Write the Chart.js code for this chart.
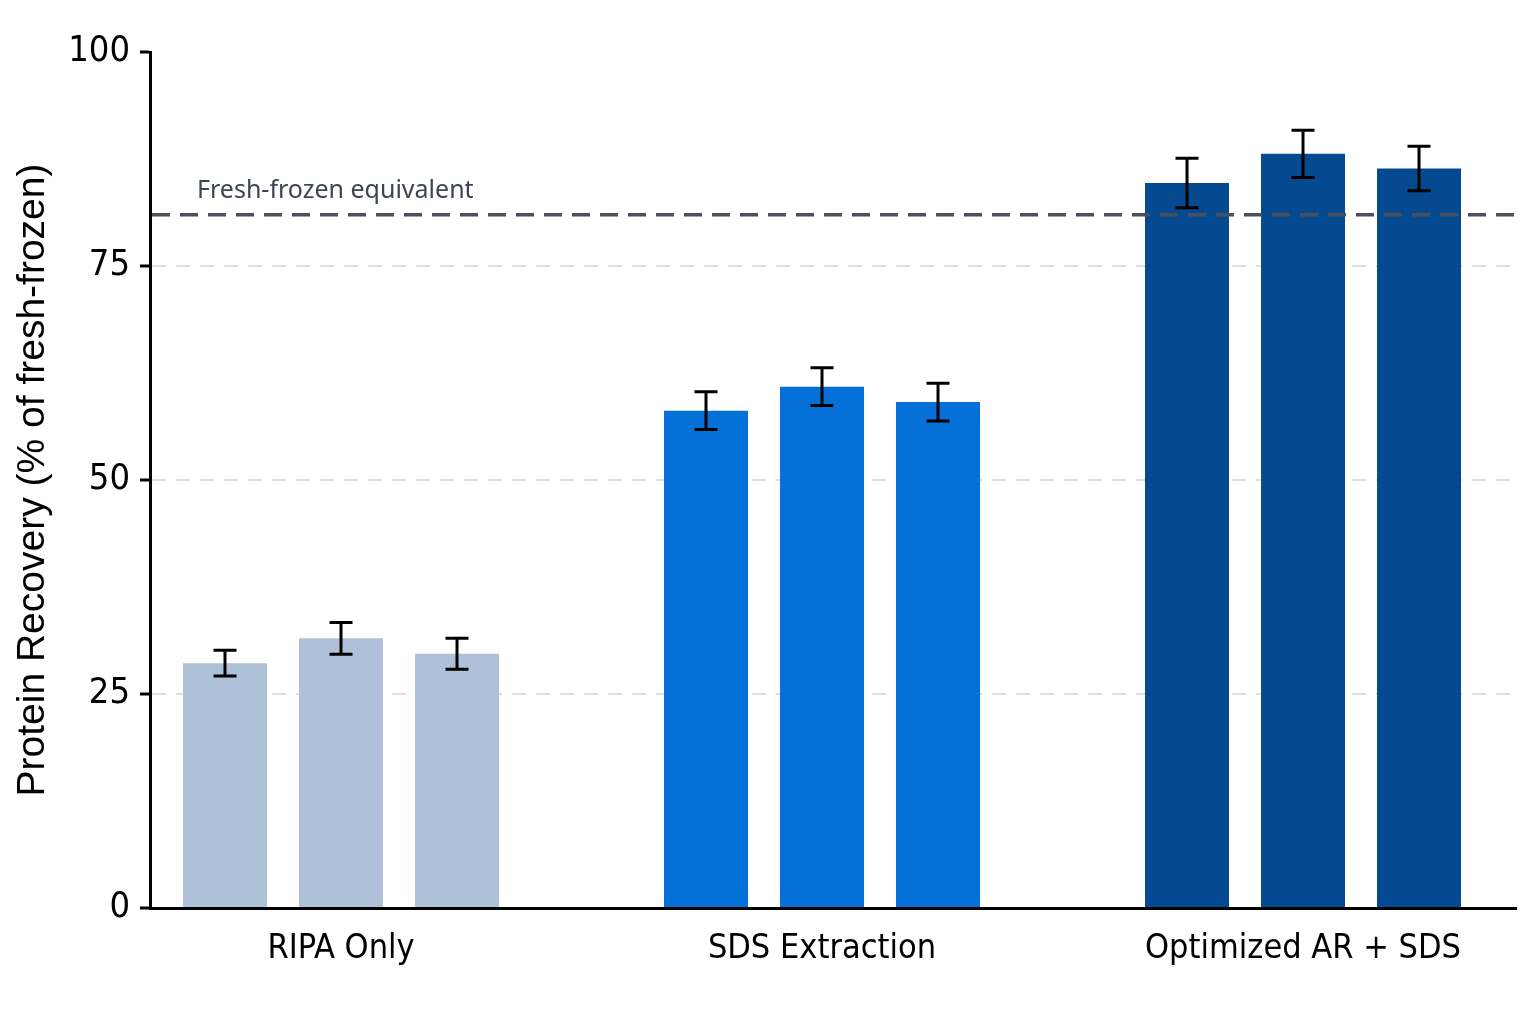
<!DOCTYPE html>
<html>
<head>
<meta charset="utf-8">
<script src="https://cdn.jsdelivr.net/npm/chart.js@4"></script>
<style>
  html, body { margin: 0; padding: 0; background: #fff; }
  #wrap { width: 1536px; height: 1024px; }
</style>
</head>
<body>
<div id="wrap"><canvas id="chart"></canvas></div>
<script>
// categorias y valores
const groups = ['RIPA Only', 'SDS Extraction', 'Optimized AR + SDS'];
const groupPos = [0, 1, 2];
const rep1 = [28.6, 58.1, 84.7];
const rep2 = [31.5, 60.9, 88.1];
const rep3 = [29.7, 59.1, 86.4];
const err1 = [1.5, 2.2, 2.9];
const err2 = [1.85, 2.2, 2.75];
const err3 = [1.8, 2.2, 2.6];
const freshFrozen = 81;
const yTicks = [0, 25, 50, 75, 100];

const groupColors = ['#aec1d9', '#0670d9', '#054a91'];

const toPoints = (vals) => vals.map((v, i) => ({ x: groupPos[i], y: v }));

// Barras de error
const errorBars = {
    id: 'errorBars',
    afterDatasetsDraw(chart) {
        const ctx = chart.ctx;
        const y = chart.scales.y;
        ctx.save();
        ctx.strokeStyle = '#000';
        ctx.lineWidth = 3;
        chart.data.datasets.forEach((ds, di) => {
            const meta = chart.getDatasetMeta(di);
            meta.data.forEach((bar, i) => {
                const v = ds.data[i].y;
                const e = ds.errors[i];
                const top = y.getPixelForValue(v + e);
                const bot = y.getPixelForValue(v - e);
                ctx.beginPath();
                ctx.moveTo(bar.x, top); ctx.lineTo(bar.x, bot);
                ctx.moveTo(bar.x - 11.5, top); ctx.lineTo(bar.x + 11.5, top);
                ctx.moveTo(bar.x - 11.5, bot); ctx.lineTo(bar.x + 11.5, bot);
                ctx.stroke();
            });
        });
        ctx.restore();
    }
};

// Linea de referencia
const refLine = {
    id: 'refLine',
    afterDraw(chart) {
        const ctx = chart.ctx;
        const area = chart.chartArea;
        const yy = chart.scales.y.getPixelForValue(freshFrozen);
        ctx.save();
        ctx.strokeStyle = '#4a4f5b';
        ctx.lineWidth = 3.5;
        ctx.setLineDash([18, 10]);
        ctx.beginPath();
        ctx.moveTo(area.left + 2, yy);
        ctx.lineTo(area.right, yy);
        ctx.stroke();
        ctx.setLineDash([]);
        ctx.fillStyle = '#3d4452';
        ctx.font = '25px "Noto Sans"';
        ctx.textBaseline = 'alphabetic';
        ctx.fillText('Fresh-frozen equivalent', area.left + 47, yy - 17);
        ctx.restore();
    }
};

new Chart(document.getElementById('chart'), {
    type: 'bar',
    data: {
        datasets: [
            { label: 'Rep 1', data: toPoints(rep1), errors: err1, backgroundColor: groupColors },
            { label: 'Rep 2', data: toPoints(rep2), errors: err2, backgroundColor: groupColors },
            { label: 'Rep 3', data: toPoints(rep3), errors: err3, backgroundColor: groupColors }
        ]
    },
    options: {
        responsive: true,
        maintainAspectRatio: false,
        animation: false,
        categoryPercentage: 0.7235,
        barPercentage: 0.724,
        layout: { padding: { top: 52, right: 20, bottom: 0, left: 0 } },
        plugins: {
            legend: { display: false },
            tooltip: { enabled: false }
        },
        scales: {
            x: {
                type: 'linear',
                offset: false,
                min: -0.3971,
                max: 2.4428,
                afterBuildTicks: (scale) => {
                    scale.ticks = groupPos.map(v => ({ value: v }));
                },
                afterFit: (scale) => { scale.height = 116; },
                ticks: {
                    autoSkip: false,
                    maxRotation: 0,
                    color: '#000',
                    padding: 13,
                    font: { family: '"Liberation Sans Narrow", "DejaVu Sans Condensed", sans-serif', size: 34 },
                    callback: (v) => groups[groupPos.indexOf(v)]
                },
                grid: { display: false },
                border: { display: true, color: '#000', width: 3 }
            },
            y: {
                min: 0,
                max: 100,
                afterBuildTicks: (scale) => {
                    scale.ticks = yTicks.map(v => ({ value: v }));
                },
                afterFit: (scale) => { scale.width = 150; },
                ticks: {
                    color: '#000',
                    padding: 10,
                    font: { family: '"Liberation Sans Narrow", "DejaVu Sans Condensed", sans-serif', size: 36 }
                },
                grid: {
                    color: (c) => (c.tick.value === 0 || c.tick.value === 100) ? 'rgba(0,0,0,0)' : '#dedede',
                    lineWidth: 2,
                    tickColor: '#000',
                    tickLength: 10,
                    tickWidth: 3
                },
                border: { display: true, color: '#000', width: 3, dash: [14, 10] },
                title: {
                    display: true,
                    text: 'Protein Recovery (% of fresh-frozen)',
                    color: '#000',
                    font: { family: '"Liberation Sans", Arial, sans-serif', size: 39 },
                    padding: { top: 10, bottom: 0 }
                }
            }
        }
    },
    plugins: [errorBars, refLine]
});
</script>
</body>
</html>
